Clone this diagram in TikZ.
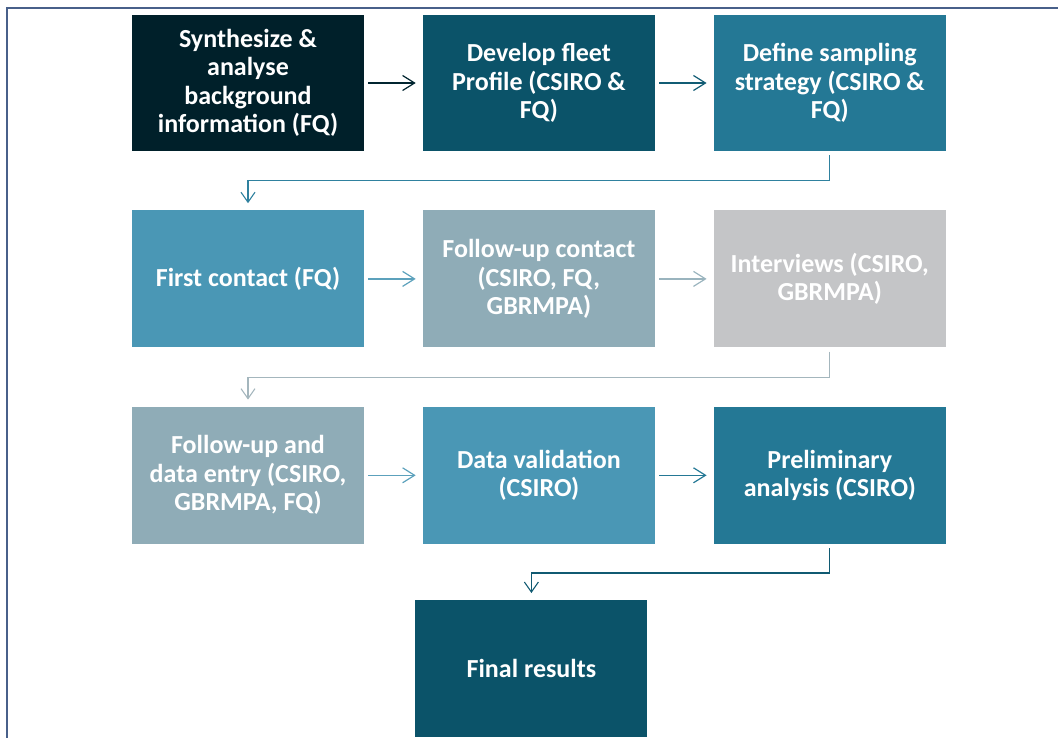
\documentclass[tikz,border=0pt]{standalone}
\usepackage{fontspec}
\setmainfont{Carlito}
\usetikzlibrary{arrows.meta, positioning, calc}
\definecolor{fqnavy}{HTML}{00202A}
\definecolor{fqdeep}{HTML}{0B5369}
\definecolor{fqteal}{HTML}{247895}
\definecolor{fqblue}{HTML}{4A97B5}
\definecolor{fqslate}{HTML}{8FACB7}
\definecolor{fqgrey}{HTML}{C4C5C7}
\definecolor{fqframe}{HTML}{48608A}
\tikzset{
  stage/.style={rectangle, draw=none, text=white, align=center,
                font=\fontsize{26}{28.5}\selectfont\bfseries,
                minimum width=232pt, minimum height=137pt, inner sep=2pt},
  flow/.style={-{Straight Barb[length=12pt, width=15pt, line width=1.2pt]},
               line width=1.4pt, shorten <=4pt, shorten >=7pt},
  elbow/.style={-{Straight Barb[length=10pt, width=14pt, line width=1.1pt]},
                line width=1.2pt, shorten <=4pt, shorten >=7pt},
}
\begin{document}
\begin{tikzpicture}[x=1pt, y=1pt, node distance=58.5pt]
  \useasboundingbox (0,0) rectangle (1058,-738);
  % frame
  \draw[fqframe, line width=2.2pt] (7,-740) -- (7,-8) -- (1060,-8);
  % row 1
  \node[stage, fill=fqnavy, minimum height=136pt] (synth) at (248,-83)
       {Synthesize \&\\analyse\\background\\information (FQ)};
  \node[stage, fill=fqdeep, minimum height=136pt, right=of synth] (fleet)
       {Develop fleet\\Profile (CSIRO \&\\FQ)};
  \node[stage, fill=fqteal, minimum height=136pt, right=of fleet] (strategy)
       {Define sampling\\strategy (CSIRO \&\\FQ)};
  % row 2
  \node[stage, fill=fqblue, below=59pt of synth] (first) {First contact (FQ)};
  \node[stage, fill=fqslate, right=of first] (followup)
       {Follow-up contact\\(CSIRO, FQ,\\GBRMPA)};
  \node[stage, fill=fqgrey, right=of followup] (interviews)
       {Interviews (CSIRO,\\GBRMPA)};
  % row 3
  \node[stage, fill=fqslate, below=59pt of first] (entry)
       {Follow-up and\\data entry (CSIRO,\\GBRMPA, FQ)};
  \node[stage, fill=fqblue, right=of entry] (validation)
       {Data validation\\(CSIRO)};
  \node[stage, fill=fqteal, right=of validation] (prelim)
       {Preliminary\\analysis (CSIRO)};
  % final
  \node[stage, fill=fqdeep, below=56pt of validation, xshift=-7.5pt] (final)
       {Final results};
  % connectors
  \draw[flow, draw=fqnavy!90!fqdeep] (synth) -- (fleet);
  \draw[flow, draw=fqdeep!75!fqteal] (fleet) -- (strategy);
  \draw[elbow, draw=fqteal!70!fqblue] (strategy.south) -- ++(0,-29.5) -| (first.north);
  \draw[flow, draw=fqblue!90!white] (first) -- (followup);
  \draw[flow, draw=fqslate!90!white] (followup) -- (interviews);
  \draw[elbow, draw=fqslate!60!fqgrey] (interviews.south) -- ++(0,-29.5) -| (entry.north);
  \draw[flow, draw=fqblue!90!white] (entry) -- (validation);
  \draw[flow, draw=fqteal] (validation) -- (prelim);
  \draw[elbow, draw=fqdeep!80!fqteal] (prelim.south) -- ++(0,-29) -| (final.north);
\end{tikzpicture}
\end{document}
